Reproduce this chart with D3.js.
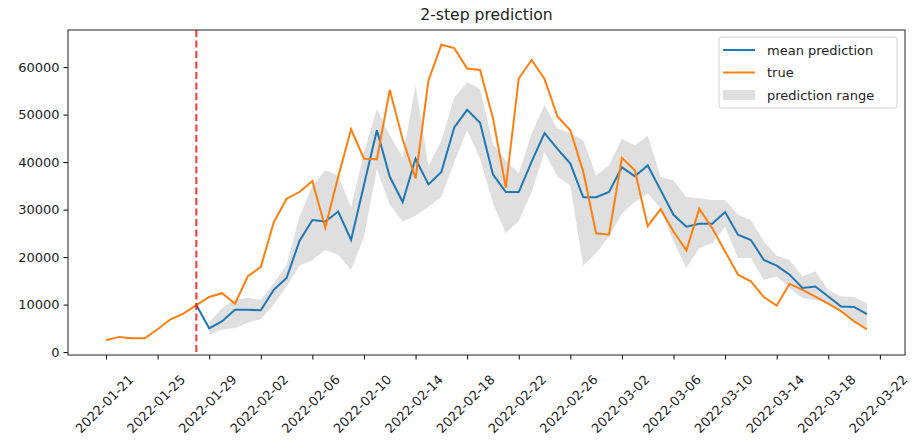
<!DOCTYPE html>
<html>
<head>
<meta charset="utf-8">
<script src="https://cdn.jsdelivr.net/npm/d3@7"></script>
<style>
    body { margin: 0; background: white; }
    text { font-family: "DejaVu Sans", sans-serif; }
</style>
</head>
<body>
<div id="chart-container"></div>
<script>
const chartWidth = 913;
const chartHeight = 443;
const chartPadding = {top: 30, right: 8, bottom: 88, left: 68};

// first and last day of the series, one value per day
const startDate = "2022-01-21";
const endDate = "2022-03-21";
const forecastStart = "2022-01-28";

const trueValues = [
    2500, 3200, 2900, 2900, 4800, 6900, 8100, 9900, 11600, 12400,
    10200, 16000, 17900, 27300, 32300, 33700, 36000, 26200, 36900, 46900,
    40700, 40600, 55200, 44800, 36600, 57200, 64700, 64000, 59700, 59400,
    49300, 34600, 57600, 61500, 57500, 49600, 46700, 38000, 25000, 24700,
    40900, 38300, 26500, 30100, 25400, 21400, 30200, 26100, 21200, 16300,
    14900, 11600, 9800, 14400, 13100, 11700, 10200, 8600, 6500, 4800
];

// mean prediction starts on 2022-01-28
const meanValues = [
    9900, 5000, 6500, 8900, 8900, 8800, 13100, 15600, 23400, 27800,
    27500, 29600, 23600, 35200, 46700, 36900, 31600, 40700, 35300, 37900,
    47300, 51000, 48300, 37400, 33700, 33700, 40100, 46100, 42800, 39700,
    32600, 32600, 33700, 38900, 37000, 39300, 34100, 28900, 26400, 27000,
    27000, 29500, 24700, 23600, 19400, 18200, 16300, 13500, 13800, 11700,
    9600, 9500, 8000
];

// prediction range starts on 2022-01-29
const lowerValues = [
    3700, 4700, 5100, 6200, 6900, 10000, 13800, 18200, 19400, 21500,
    20500, 17300, 24300, 38500, 31000, 27500, 28700, 30600, 32700, 40000,
    46700, 40700, 31300, 25000, 27600, 33700, 42100, 36900, 35100, 18200,
    20800, 24300, 29200, 31600, 33400, 30300, 23300, 17700, 21900, 22900,
    26400, 19800, 19800, 15200, 15900, 13500, 11400, 10900, 10400, 8300,
    6200, 5100
];
const upperValues = [
    6300, 9300, 11000, 11400, 11000, 14500, 18400, 28500, 35000, 38300,
    37200, 30500, 42000, 51200, 45600, 41000, 56100, 39200, 44500, 53600,
    56800, 55400, 43800, 40400, 37600, 46000, 52000, 47000, 46100, 44600,
    37200, 39300, 44900, 43500, 45600, 36900, 36200, 32600, 32400, 32000,
    32000, 28900, 27800, 23300, 20300, 19400, 15900, 17000, 13100, 11700,
    11600, 10300
];

const yTicks = [0, 10000, 20000, 30000, 40000, 50000, 60000];
const xTickLabels = [
    "2022-01-21", "2022-01-25", "2022-01-29", "2022-02-02", "2022-02-06",
    "2022-02-10", "2022-02-14", "2022-02-18", "2022-02-22", "2022-02-26",
    "2022-03-02", "2022-03-06", "2022-03-10", "2022-03-14", "2022-03-18",
    "2022-03-22"
];

const colors = {mean: "#1f77b4", true: "#ff7f0e", band: "#808080", cut: "#ff0000"};

const parseDate = d3.utcParse("%Y-%m-%d");

/**
 * Build the daily records
 */
function buildData() {
    const days = d3.utcDay.range(parseDate(startDate), d3.utcDay.offset(parseDate(endDate), 1));
    const truth = days.map((date, i) => ({date, value: trueValues[i]}));
    const fStart = parseDate(forecastStart);
    const mean = meanValues.map((value, i) => ({date: d3.utcDay.offset(fStart, i), value}));
    const band = lowerValues.map((low, i) => ({date: d3.utcDay.offset(fStart, i + 1), low, high: upperValues[i]}));
    return {days, truth, mean, band};
}

/**
 * Create the scales, with matplotlib-like 5% margins
 */
function createScales(data) {
    const [x0, x1] = d3.extent(data.days);
    const xPad = (x1 - x0) * 0.05;
    const xScale = d3.scaleUtc()
        .domain([new Date(+x0 - xPad), new Date(+x1 + xPad)])
        .range([chartPadding.left, chartWidth - chartPadding.right]);

    const all = trueValues.concat(meanValues, lowerValues, upperValues);
    const [y0, y1] = d3.extent(all);
    const yPad = (y1 - y0) * 0.05;
    const yScale = d3.scaleLinear()
        .domain([y0 - yPad, y1 + yPad])
        .range([chartHeight - chartPadding.bottom, chartPadding.top]);

    return {xScale, yScale};
}

function drawAxes(svg, xScale, yScale) {
    const bottom = chartHeight - chartPadding.bottom;

    const yAxis = svg.append("g")
        .attr("transform", `translate(${chartPadding.left},0)`)
        .call(d3.axisLeft(yScale).tickValues(yTicks).tickSize(4.5).tickPadding(4).tickFormat(d3.format("d")));
    yAxis.select(".domain").remove();
    yAxis.selectAll("text")
        .style("font-size", "13px")
        .style("font-family", "DejaVu Sans")
        .attr("fill", "#222");

    const xAxis = svg.append("g")
        .attr("transform", `translate(0,${bottom})`)
        .call(d3.axisBottom(xScale).tickValues(xTickLabels.map(parseDate)).tickSize(4.5).tickFormat(d3.utcFormat("%Y-%m-%d")));
    xAxis.select(".domain").remove();
    xAxis.selectAll("text")
        .style("font-size", "13px")
        .style("font-family", "DejaVu Sans")
        .attr("fill", "#222")
        .attr("text-anchor", "middle")
        .attr("dominant-baseline", "central")
        .attr("y", 0)
        .attr("dy", null)
        .attr("transform", "translate(-2,49) rotate(-45)");

    // frame
    svg.append("rect")
        .attr("x", chartPadding.left)
        .attr("y", chartPadding.top)
        .attr("width", chartWidth - chartPadding.left - chartPadding.right)
        .attr("height", bottom - chartPadding.top)
        .attr("fill", "none")
        .attr("stroke", "#222")
        .attr("stroke-width", 1);
}

function drawSeries(svg, data, xScale, yScale) {
    svg.append("path")
        .datum(data.band)
        .attr("fill", colors.band)
        .attr("fill-opacity", 0.25)
        .attr("d", d3.area().x(d => xScale(d.date)).y0(d => yScale(d.low)).y1(d => yScale(d.high)));

    const line = d3.line().x(d => xScale(d.date)).y(d => yScale(d.value));

    svg.append("path")
        .datum(data.mean)
        .attr("fill", "none")
        .attr("stroke", colors.mean)
        .attr("stroke-width", 2)
        .attr("d", line);

    svg.append("path")
        .datum(data.truth)
        .attr("fill", "none")
        .attr("stroke", colors.true)
        .attr("stroke-width", 2)
        .attr("d", line);

    const cutX = xScale(parseDate(forecastStart));
    svg.append("line")
        .attr("x1", cutX).attr("x2", cutX)
        .attr("y1", chartPadding.top).attr("y2", chartHeight - chartPadding.bottom)
        .attr("stroke", colors.cut)
        .attr("stroke-width", 2)
        .attr("stroke-opacity", 0.8)
        .attr("stroke-dasharray", "7,3.5");
}

function drawLegend(svg) {
    const g = svg.append("g").attr("transform", "translate(719,37)");
    g.append("rect")
        .attr("width", 178).attr("height", 71).attr("rx", 3)
        .attr("fill", "white").attr("fill-opacity", 0.8)
        .attr("stroke", "#d0d0d0");

    const items = [
        {label: "mean prediction", type: "line", color: colors.mean},
        {label: "true", type: "line", color: colors.true},
        {label: "prediction range", type: "patch", color: colors.band}
    ];
    items.forEach((item, i) => {
        const cy = 13 + i * 22.5;
        if (item.type === "line") {
            g.append("line")
                .attr("x1", 4).attr("x2", 36).attr("y1", cy).attr("y2", cy)
                .attr("stroke", item.color).attr("stroke-width", 2);
        } else {
            g.append("rect")
                .attr("x", 4).attr("y", cy - 5).attr("width", 32).attr("height", 10)
                .attr("fill", item.color).attr("fill-opacity", 0.25);
        }
        g.append("text")
            .attr("x", 48).attr("y", cy)
            .attr("dominant-baseline", "central")
            .attr("fill", "#222")
            .style("font-size", "13px")
            .text(item.label);
    });
}

const data = buildData();
const {xScale, yScale} = createScales(data);
const svg = d3.select("#chart-container").append("svg")
    .attr("width", chartWidth)
    .attr("height", chartHeight);

svg.append("text")
    .attr("x", (chartPadding.left + chartWidth - chartPadding.right) / 2)
    .attr("y", 20)
    .attr("text-anchor", "middle")
    .attr("fill", "#222")
    .style("font-size", "15.6px")
    .text("2-step prediction");

drawSeries(svg, data, xScale, yScale);
drawAxes(svg, xScale, yScale);
drawLegend(svg);
</script>
</body>
</html>
